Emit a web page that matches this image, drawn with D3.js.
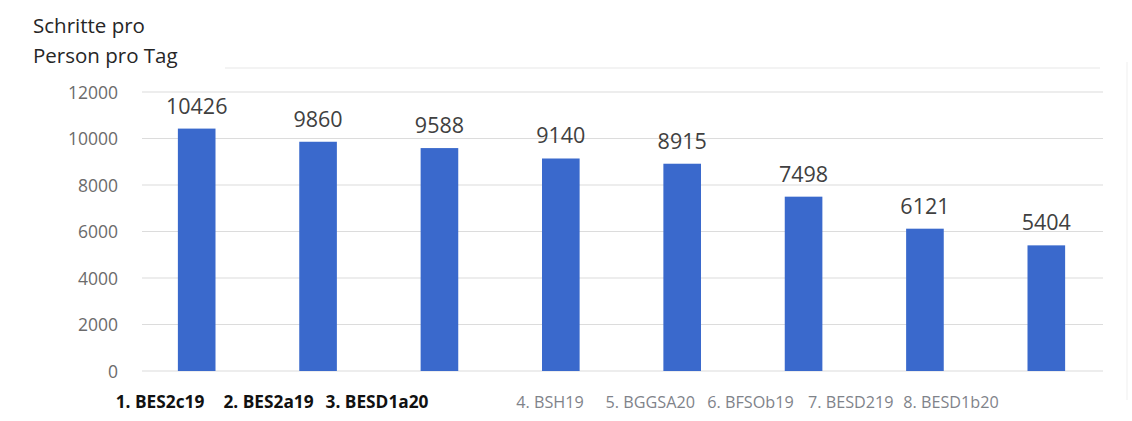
<!DOCTYPE html>
<html><head><meta charset="utf-8">
<script src="https://cdn.jsdelivr.net/npm/d3@7"></script>
<style>body{margin:0;background:#fff;} svg{display:block;}</style>
</head><body>
<svg id="c" width="1132" height="421"></svg>
<script>
const categories = ["1. BES2c19","2. BES2a19","3. BESD1a20","4. BSH19","5. BGGSA20","6. BFSOb19","7. BESD219","8. BESD1b20"];
const values = [10426, 9860, 9588, 9140, 8915, 7498, 6121, 5404];
const topRanked = ["1. BES2c19","2. BES2a19","3. BESD1a20"];
const yTicks = [0, 2000, 4000, 6000, 8000, 10000, 12000];
const titleLines = ["Schritte pro", "Person pro Tag"];

const svg = d3.select("#c");
const font = "'Open Sans', 'Liberation Sans', sans-serif";

const x = d3.scaleBand().domain(categories).range([136, 1107]).paddingInner(0.69).paddingOuter(0.345);
const y = d3.scaleLinear().domain([0, 12000]).range([371, 92]);

// faint decorative frame lines
svg.append("line").attr("x1", 225).attr("x2", 1100).attr("y1", 68).attr("y2", 68)
  .attr("stroke", "#efefef").attr("stroke-width", 1.5);
svg.append("line").attr("x1", 1127).attr("x2", 1127).attr("y1", 62).attr("y2", 400)
  .attr("stroke", "#f4f4f4").attr("stroke-width", 1.5);

// gridlines
svg.append("g").selectAll("line").data(yTicks).join("line")
  .attr("x1", 142).attr("x2", 1103)
  .attr("y1", d => y(d)).attr("y2", d => y(d))
  .attr("stroke", "#dcdcdc").attr("stroke-width", 1.2);

// y axis labels
const yAxis = d3.axisLeft(y).tickValues(yTicks).tickSize(0).tickPadding(0).tickFormat(d3.format("d"));
const gy = svg.append("g").attr("transform", "translate(118,0)").call(yAxis);
gy.select(".domain").remove();
gy.selectAll("text").attr("font-family", font).attr("font-size", 17.5).attr("fill", "#6b6b6b").attr("dy", "0.35em");

// bars
svg.append("g").selectAll("rect").data(values).join("rect")
  .attr("x", (d, i) => x(categories[i]))
  .attr("width", x.bandwidth())
  .attr("y", d => y(d))
  .attr("height", d => y(0) - y(d))
  .attr("fill", "#3a69cc");

// value labels
svg.append("g").selectAll("text").data(values).join("text")
  .attr("x", (d, i) => x(categories[i]) + x.bandwidth() / 2)
  .attr("y", d => y(d) - 15)
  .attr("text-anchor", "middle")
  .attr("font-family", font).attr("font-size", 21.5).attr("fill", "#404040")
  .text(d => d);

// category labels
const rest = categories.filter(c => !topRanked.includes(c));
const xTop = d3.scalePoint().domain(topRanked).range([160, 377]);
const xRest = d3.scalePoint().domain(rest).range([550, 951]);
svg.append("g").selectAll("text").data(categories).join("text")
  .attr("x", c => topRanked.includes(c) ? xTop(c) : xRest(c))
  .attr("y", 408)
  .attr("text-anchor", "middle")
  .attr("font-family", font)
  .attr("font-size", c => topRanked.includes(c) ? 17.3 : 16.2)
  .attr("font-weight", c => topRanked.includes(c) ? "bold" : "normal")
  .attr("fill", c => topRanked.includes(c) ? "#111" : "#7f838a")
  .text(c => c);

// title
svg.append("g").selectAll("text").data(titleLines).join("text")
  .attr("x", 33).attr("y", (d, i) => 33 + i * 30)
  .attr("font-family", font).attr("font-size", 20.5).attr("fill", "#262626")
  .text(d => d);
</script>
</body></html>
